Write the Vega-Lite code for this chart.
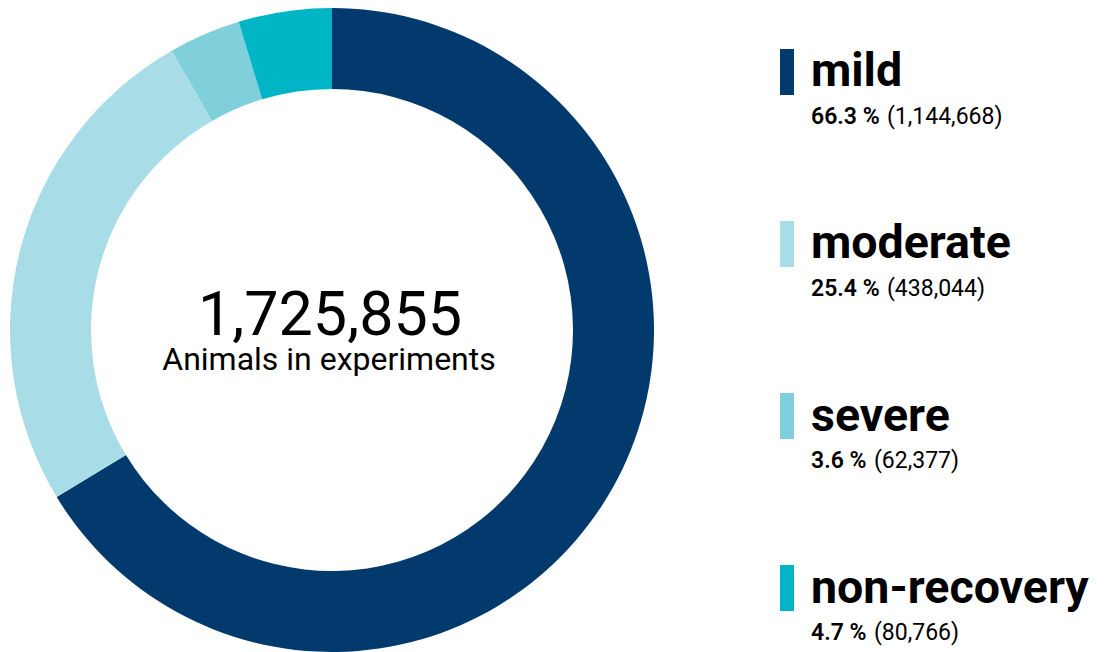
{
  "$schema": "https://vega.github.io/schema/vega-lite/v6.json",
  "padding": {"top": 8, "left": 0, "right": 0, "bottom": 0},
  "spacing": 116,
  "background": "white",
  "config": {"view": {"stroke": null}, "font": "Roboto"},
  "data": {
    "values": [
      {"category": "mild", "rank": 1, "pct": 66.3, "count": 1144668},
      {"category": "moderate", "rank": 2, "pct": 25.4, "count": 438044},
      {"category": "severe", "rank": 3, "pct": 3.6, "count": 62377},
      {"category": "non-recovery", "rank": 4, "pct": 4.7, "count": 80766}
    ]
  },
  "hconcat": [
    {
      "width": 664,
      "height": 644,
      "layer": [
        {
          "mark": {"type": "arc", "outerRadius": 322, "innerRadius": 241},
          "encoding": {
            "theta": {"field": "count", "type": "quantitative", "stack": true},
            "order": {"field": "rank", "type": "quantitative"},
            "color": {
              "field": "category",
              "type": "nominal",
              "scale": {
                "domain": ["mild", "moderate", "severe", "non-recovery"],
                "range": ["#023a6d", "#a8dce6", "#80d0db", "#00b5c6"]
              },
              "legend": null
            }
          }
        },
        {
          "transform": [{"aggregate": [{"op": "sum", "field": "count", "as": "total"}]}],
          "mark": {"type": "text", "fontSize": 61, "baseline": "alphabetic", "align": "center", "dy": 4.5, "dx": -2, "color": "black", "font": "Roboto"},
          "encoding": {"text": {"field": "total", "type": "quantitative", "format": ","}}
        },
        {
          "transform": [{"aggregate": [{"op": "sum", "field": "count", "as": "total"}]}],
          "mark": {"type": "text", "fontSize": 32, "baseline": "alphabetic", "align": "center", "dy": 40, "dx": -3, "color": "black", "font": "Roboto", "text": "Animals in experiments"},
          "encoding": {}
        }
      ]
    },
    {
      "width": 324,
      "height": 644,
      "encoding": {
        "y": {
          "field": "category",
          "type": "nominal",
          "sort": ["mild", "moderate", "severe", "non-recovery"],
          "scale": {"type": "point", "padding": 0.372},
          "axis": null
        }
      },
      "layer": [
        {
          "mark": {"type": "tick", "orient": "vertical", "thickness": 14, "size": 46, "opacity": 1},
          "encoding": {
            "x": {"value": 7},
            "color": {"field": "category", "type": "nominal", "legend": null}
          }
        },
        {
          "mark": {"type": "text", "align": "left", "baseline": "alphabetic", "fontSize": 46.5, "fontWeight": "bold", "dy": 14.5, "color": "black", "font": "Roboto"},
          "encoding": {"x": {"value": 31}, "text": {"field": "category"}}
        },
        {
          "mark": {"type": "text", "align": "left", "baseline": "alphabetic", "fontSize": 23, "fontWeight": 600, "dy": 52, "color": "black", "font": "Roboto",
                   "text": {"expr": "format(datum.pct, '.1f') + ' %'"}},
          "encoding": {"x": {"value": 31}}
        },
        {
          "mark": {"type": "text", "align": "left", "baseline": "alphabetic", "fontSize": 23, "dy": 52, "color": "black", "font": "Roboto",
                   "text": {"expr": "'(' + format(datum.count, ',') + ')'"},
                   "dx": {"expr": "length(format(datum.pct, '.1f')) * 13 + 24"}},
          "encoding": {"x": {"value": 31}}
        }
      ]
    }
  ]
}
